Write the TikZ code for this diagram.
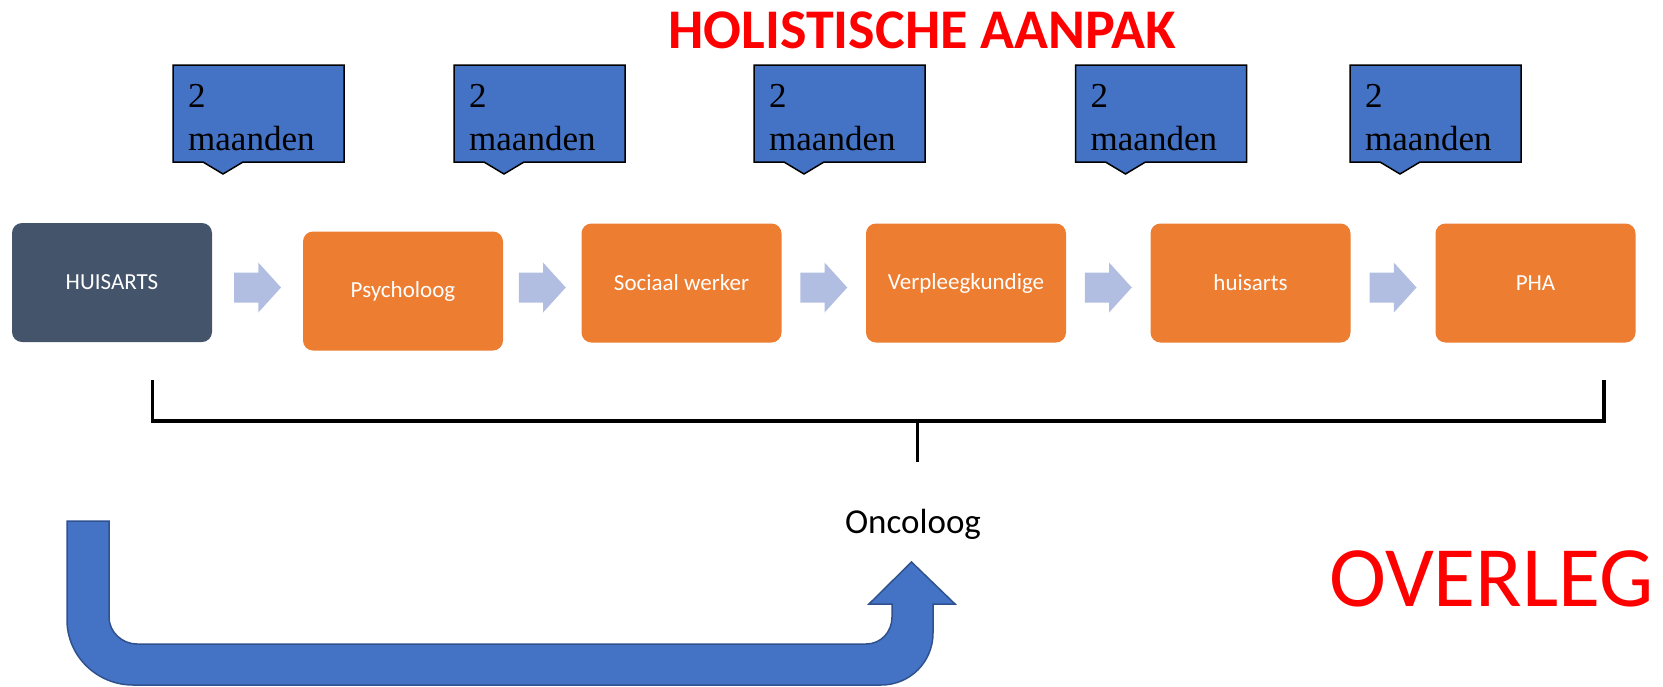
\documentclass[tikz,border=0pt]{standalone}
\usepackage{fontspec}
\setmainfont{Carlito}
\newfontfamily\timesfont{Liberation Serif}
\usetikzlibrary{calc}

\definecolor{calloutblue}{HTML}{4472C4}
\definecolor{calloutedge}{HTML}{2F528F}
\definecolor{steporange}{HTML}{ED7D31}
\definecolor{stepslate}{HTML}{44546A}
\definecolor{arrowlight}{RGB}{177,190,226}
\definecolor{titlered}{HTML}{FF0000}

\tikzset{
  stepbox/.style={rectangle, rounded corners=10pt, minimum width=200pt, minimum height=119pt,
    inner sep=0pt, text=white, font=\fontsize{23}{27}\selectfont},
  orangebox/.style={stepbox, fill=steporange},
  slatebox/.style={stepbox, fill=stepslate},
  callout/.style={fill=calloutblue, draw=black, line width=1.5pt, line join=miter},
  monthtext/.style={anchor=base west, inner sep=0pt, font=\timesfont\fontsize{35}{43}\selectfont},
  flowarrow/.pic={\fill[arrowlight] (-23.5,-15) -- (0.8,-15) -- (0.8,-25) -- (23.5,0)
      -- (0.8,25) -- (0.8,15) -- (-23.5,15) -- cycle;},
  bracketline/.style={line width=3.6pt, line join=miter},
}

\begin{document}
\begin{tikzpicture}[x=1pt, y=-1pt]
\useasboundingbox (0,0) rectangle (1663,686);

% title
\node[anchor=base, inner sep=0pt, text=titlered, font=\bfseries\fontsize{56}{64}\selectfont]
  (title) at (922,48.3) {HOLISTISCHE AANPAK};

% "2 maanden" callouts
\foreach \L [count=\i] in {173,454,754,1075.5,1350} {
  \draw[callout] (\L,65) -- (\L+171,65) -- (\L+171,162) -- (\L+70,162) -- (\L+50,174)
    -- (\L+30,162) -- (\L,162) -- cycle;
  \node[monthtext] (m\i a) at (\L+15,107) {2};
  \node[monthtext] (m\i b) at (\L+15,150) {maanden};
}

% process steps
\node[slatebox]  (ha)  at (112,282.5)   {HUISARTS};
\node[orangebox] (psy) at (403,291)     {Psycholoog};
\node[orangebox] (soc) at (681.5,283)   {Sociaal werker};
\node[orangebox] (ver) at (966,283)     {Verpleegkundige};
\node[orangebox] (hu)  at (1250.5,283)  {huisarts};
\node[orangebox] (pha) at (1535.5,283)  {PHA};

% arrows between the steps
\coordinate (arrowrow) at (0,287.5);
\foreach \a/\b [count=\k] in {ha/psy, psy/soc, soc/ver, ver/hu, hu/pha} {
  \coordinate (mid\k) at ($(\a.east)!0.5!(\b.west)$);
  \pic at (mid\k |- arrowrow) {flowarrow};
}

% bracket gathering all steps
\coordinate (bl) at (152.5,380);
\coordinate (br) at (1604,380);
\coordinate (stemtop) at (917.5,421);
\coordinate (stembot) at (917.5,461.5);
\draw[bracketline] (bl) -- (bl |- stemtop) -- (br |- stemtop) -- (br);
\draw[bracketline] (stemtop) -- (stembot);

\node[anchor=base, inner sep=0pt, font=\fontsize{35}{42}\selectfont] (onc) at (913,533) {Oncoloog};

% U-turn arrow towards the oncologist
\draw[fill=calloutblue, draw=calloutedge, line width=1.5pt, line join=miter]
  (67,521) -- (67,620) .. controls (67,656) and (97,685) .. (133,685)
  -- (881,685) .. controls (910,685) and (933,662) .. (933,633)
  -- (933,604) -- (955,604) -- (911.5,562) -- (869,604) -- (892,604)
  -- (892,617) .. controls (892,632) and (881,644) .. (866,644)
  -- (137,644) .. controls (122,644) and (109,632) .. (109,617)
  -- (109,521) -- cycle;

\node[anchor=base west, inner sep=0pt, text=titlered, font=\fontsize{86}{100}\selectfont]
  (overleg) at (1329,606) {OVERLEG};
\end{tikzpicture}
\end{document}
